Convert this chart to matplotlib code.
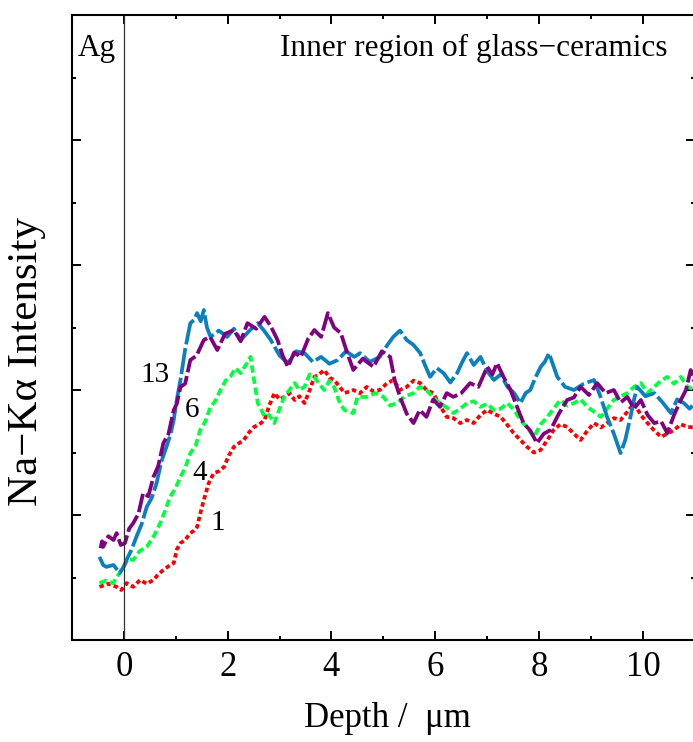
import matplotlib
matplotlib.use("Agg")
import matplotlib.pyplot as plt
from matplotlib.ticker import MultipleLocator

plt.rcParams['font.family'] = ['Liberation Serif', 'DejaVu Serif']

# Na-Ka line scans, depth in um, intensity in arbitrary units
x1 = [-0.47, -0.3, -0.14, -0.05, 0.05, 0.18, 0.31, 0.44, 0.57, 0.66, 0.76, 0.86, 0.96, 1.02, 1.09, 1.18,
      1.28, 1.35, 1.41, 1.48, 1.54, 1.63, 1.73, 1.83, 1.93, 2.02, 2.12, 2.22, 2.31, 2.41, 2.51, 2.61,
      2.71, 2.8, 2.9, 3.0, 3.09, 3.19, 3.29, 3.38, 3.48, 3.58, 3.67, 3.76, 3.86, 3.96, 4.05, 4.16,
      4.25, 4.42, 4.55, 4.68, 4.8, 4.93, 5.06, 5.19, 5.32, 5.45, 5.58, 5.71, 5.83, 5.96, 6.09, 6.22,
      6.35, 6.48, 6.61, 6.74, 6.87, 7.0, 7.13, 7.26, 7.38, 7.51, 7.64, 7.77, 7.9, 8.03, 8.16, 8.28,
      8.41, 8.54, 8.67, 8.8, 8.93, 9.06, 9.19, 9.31, 9.44, 9.57, 9.7, 9.83, 9.96, 10.09, 10.22, 10.35,
      10.47, 10.6, 10.73, 10.86, 11.0]
y1 = [0.85, 0.9, 0.85, 0.8, 0.91, 0.85, 0.96, 0.9, 0.96, 1.05, 1.12, 1.18, 1.23, 1.45, 1.55, 1.6,
      1.71, 1.75, 1.81, 2.05, 2.24, 2.5, 2.67, 2.7, 2.77, 2.95, 3.09, 3.15, 3.2, 3.32, 3.41, 3.45,
      3.52, 3.75, 3.95, 3.85, 3.89, 3.95, 3.84, 3.9, 3.79, 4.0, 4.21, 4.25, 4.32, 4.2, 4.16, 4.05,
      3.95, 4.0, 3.95, 4.05, 3.98, 4.0, 4.1, 4.16, 4.0, 4.05, 4.15, 4.11, 4.0, 3.95, 3.75, 3.57,
      3.55, 3.47, 3.52, 3.47, 3.6, 3.68, 3.62, 3.57, 3.45, 3.31, 3.2, 3.09, 3.0, 3.04, 3.2, 3.36,
      3.45, 3.41, 3.3, 3.2, 3.35, 3.47, 3.4, 3.47, 3.55, 3.52, 3.65, 3.79, 3.6, 3.47, 3.35, 3.25,
      3.3, 3.36, 3.45, 3.41, 3.4]

x4 = [-0.47, -0.35, -0.21, -0.1, -0.01, 0.08, 0.18, 0.3, 0.44, 0.57, 0.7, 0.8, 0.89, 0.99, 1.09, 1.18,
      1.28, 1.38, 1.47, 1.57, 1.67, 1.76, 1.86, 1.96, 2.05, 2.15, 2.25, 2.35, 2.44, 2.5, 2.58, 2.64,
      2.71, 2.8, 2.9, 3.0, 3.09, 3.19, 3.29, 3.38, 3.48, 3.58, 3.67, 3.76, 3.86, 3.96, 4.05, 4.16,
      4.25, 4.42, 4.5, 4.68, 4.85, 5.0, 5.13, 5.26, 5.42, 5.58, 5.7, 5.83, 5.96, 6.09, 6.22, 6.35,
      6.48, 6.61, 6.74, 6.87, 7.0, 7.13, 7.26, 7.39, 7.52, 7.64, 7.77, 7.9, 8.03, 8.16, 8.28, 8.41,
      8.54, 8.67, 8.8, 8.93, 9.06, 9.19, 9.31, 9.44, 9.57, 9.7, 9.83, 9.96, 10.09, 10.22, 10.35, 10.47,
      10.6, 10.73, 10.86, 11.0]
y4 = [0.91, 0.95, 0.91, 1.05, 1.17, 1.3, 1.28, 1.42, 1.49, 1.65, 1.87, 2.08, 2.29, 2.42, 2.61, 2.75,
      2.99, 3.1, 3.36, 3.5, 3.73, 3.82, 4.0, 4.15, 4.21, 4.35, 4.27, 4.4, 4.53, 4.2, 3.79, 3.7,
      3.57, 3.6, 3.47, 3.7, 3.89, 4.0, 4.11, 4.0, 4.05, 4.25, 4.21, 4.1, 4.0, 4.15, 4.05, 3.79,
      3.68, 3.63, 3.89, 3.89, 3.95, 3.89, 3.75, 3.79, 3.9, 3.95, 4.05, 4.0, 3.88, 3.79, 3.72, 3.63,
      3.7, 3.79, 3.82, 3.73, 3.78, 3.68, 3.7, 3.79, 3.68, 3.52, 3.4, 3.25, 3.45, 3.57, 3.7, 3.84,
      3.75, 3.79, 3.85, 3.73, 3.65, 3.57, 3.7, 3.84, 3.9, 3.95, 4.05, 4.11, 3.95, 4.05, 4.15, 4.21,
      4.1, 4.21, 4.05, 4.0]

x6 = [-0.47, -0.4, -0.34, -0.2, -0.08, 0.0, 0.05, 0.15, 0.24, 0.34, 0.44, 0.54, 0.63, 0.72, 0.82, 0.9,
      0.96, 1.02, 1.09, 1.18, 1.28, 1.35, 1.41, 1.48, 1.54, 1.6, 1.67, 1.83, 1.99, 2.12, 2.25, 2.42,
      2.58, 2.7, 2.83, 3.0, 3.16, 3.32, 3.48, 3.64, 3.8, 3.96, 4.12, 4.28, 4.44, 4.55, 4.74, 4.93,
      5.06, 5.19, 5.32, 5.45, 5.58, 5.71, 5.8, 5.9, 6.03, 6.16, 6.29, 6.42, 6.52, 6.61, 6.74, 6.87,
      7.0, 7.13, 7.26, 7.39, 7.52, 7.64, 7.74, 7.83, 7.93, 8.03, 8.11, 8.19, 8.27, 8.35, 8.5, 8.67,
      8.86, 9.06, 9.18, 9.31, 9.44, 9.57, 9.66, 9.76, 9.83, 9.89, 10.05, 10.22, 10.38, 10.54, 10.66, 10.79,
      10.9, 11.0]
y6 = [1.33, 1.2, 1.17, 1.2, 1.07, 1.18, 1.28, 1.45, 1.65, 1.85, 2.13, 2.28, 2.51, 2.85, 3.09, 3.3,
      3.52, 3.85, 4.16, 4.65, 5.07, 5.12, 5.23, 5.1, 5.28, 5.0, 4.85, 4.95, 4.85, 4.98, 4.8, 4.95,
      5.07, 4.95, 4.8, 4.55, 4.43, 4.62, 4.59, 4.45, 4.53, 4.42, 4.48, 4.62, 4.53, 4.59, 4.45, 4.53,
      4.7, 4.85, 4.95, 4.8, 4.72, 4.59, 4.4, 4.21, 4.35, 4.27, 4.12, 4.27, 4.45, 4.59, 4.4, 4.53,
      4.3, 4.16, 4.25, 4.05, 3.95, 3.79, 3.95, 4.0, 4.2, 4.37, 4.45, 4.59, 4.4, 4.21, 4.05, 4.0,
      4.1, 4.16, 3.9, 3.57, 3.3, 2.99, 3.2, 3.57, 3.85, 4.05, 3.9, 3.95, 3.8, 3.63, 3.85, 3.79,
      3.7, 3.79]

x13 = [-0.45, -0.42, -0.4, -0.3, -0.2, -0.14, -0.06, 0.02, 0.1, 0.18, 0.28, 0.37, 0.47, 0.57, 0.66, 0.76,
       0.86, 0.96, 1.02, 1.09, 1.18, 1.28, 1.4, 1.54, 1.66, 1.8, 1.95, 2.12, 2.25, 2.38, 2.55, 2.71,
       2.83, 2.96, 3.06, 3.16, 3.28, 3.41, 3.55, 3.67, 3.8, 3.93, 4.05, 4.18, 4.3, 4.42, 4.6, 4.81,
       4.97, 5.13, 5.22, 5.32, 5.45, 5.58, 5.7, 5.83, 5.96, 6.09, 6.22, 6.35, 6.5, 6.67, 6.83, 7.0,
       7.1, 7.19, 7.32, 7.45, 7.58, 7.7, 7.83, 7.96, 8.09, 8.22, 8.38, 8.54, 8.67, 8.8, 8.96, 9.12,
       9.28, 9.44, 9.57, 9.7, 9.83, 9.96, 10.09, 10.22, 10.35, 10.47, 10.6, 10.73, 10.83, 10.92, 11.0]
y13 = [1.47, 1.58, 1.49, 1.66, 1.6, 1.71, 1.52, 1.55, 1.78, 1.87, 2.02, 2.35, 2.3, 2.61, 2.78, 3.15,
       3.3, 3.68, 3.78, 4.05, 4.1, 4.48, 4.55, 4.8, 4.85, 4.64, 4.9, 4.96, 4.78, 5.07, 4.98, 5.17,
       5.02, 4.8, 4.55, 4.37, 4.6, 4.53, 4.82, 4.96, 4.85, 5.23, 5.0, 4.91, 4.6, 4.32, 4.5, 4.37,
       4.62, 4.53, 4.15, 3.89, 3.62, 3.47, 3.68, 3.57, 3.85, 3.73, 3.95, 3.89, 3.95, 4.11, 4.05, 4.37,
       4.25, 4.43, 4.2, 4.0, 3.72, 3.47, 3.35, 3.15, 3.3, 3.36, 3.62, 3.84, 3.88, 4.05, 3.92, 4.11,
       3.95, 4.0, 3.8, 3.89, 3.7, 3.84, 3.6, 3.47, 3.5, 3.31, 3.6, 3.84, 4.0, 4.32, 4.1]

fig = plt.figure(figsize=(6.93, 7.42), dpi=100)
ax = fig.add_axes([72 / 693, 102 / 742, 622.8 / 693, 625 / 742])

lw = 2.7
ax.plot(x1, y1, color='#ff0000', lw=lw, ls=(0, (1.2, 0.8)))
ax.plot(x4, y4, color='#00ff3c', lw=lw, ls=(0, (2.0, 1.0)))
ax.plot(x6, y6, color='#0a80c0', lw=lw, ls=(0, (7, 1.0)))
ax.plot(x13, y13, color='#800080', lw=lw, ls=(0, (5, 1.0)))

ax.axvline(0, color='#333333', lw=0.9)

ax.set_xlim(-1.0, 11.0)
ax.set_ylim(0, 10)
ax.xaxis.set_major_locator(MultipleLocator(2))
ax.xaxis.set_minor_locator(MultipleLocator(1))
ax.yaxis.set_major_locator(MultipleLocator(2))
ax.yaxis.set_minor_locator(MultipleLocator(1))
ax.tick_params(which='both', direction='in', top=True, right=True, width=1.4)
ax.tick_params(which='major', length=6.5, labelsize=25, pad=8)
ax.tick_params(which='minor', length=3)
ax.set_yticklabels([])
for s in ax.spines.values():
    s.set_linewidth(1.5)

ax.set_xlabel('Depth /  μm', fontsize=25, va='center')
ax.xaxis.set_label_coords(0.507, -0.126)
ax.set_ylabel('Na−Kα Intensity', fontsize=31, va='center')
ax.yaxis.set_label_coords(-0.072, 0.445)

ax.text(-0.52, 9.47, 'Ag', fontsize=22.5, ha='center', va='center')
ax.text(10.48, 9.47, 'Inner region of glass−ceramics', fontsize=22.5, ha='right', va='center')

for lab, lx, ly in [('13', 0.6, 4.24), ('6', 1.31, 3.68), ('4', 1.46, 2.67), ('1', 1.81, 1.87)]:
    ax.text(lx, ly, lab, fontsize=21, ha='center', va='center')

fig.savefig('out.png', dpi=100)
